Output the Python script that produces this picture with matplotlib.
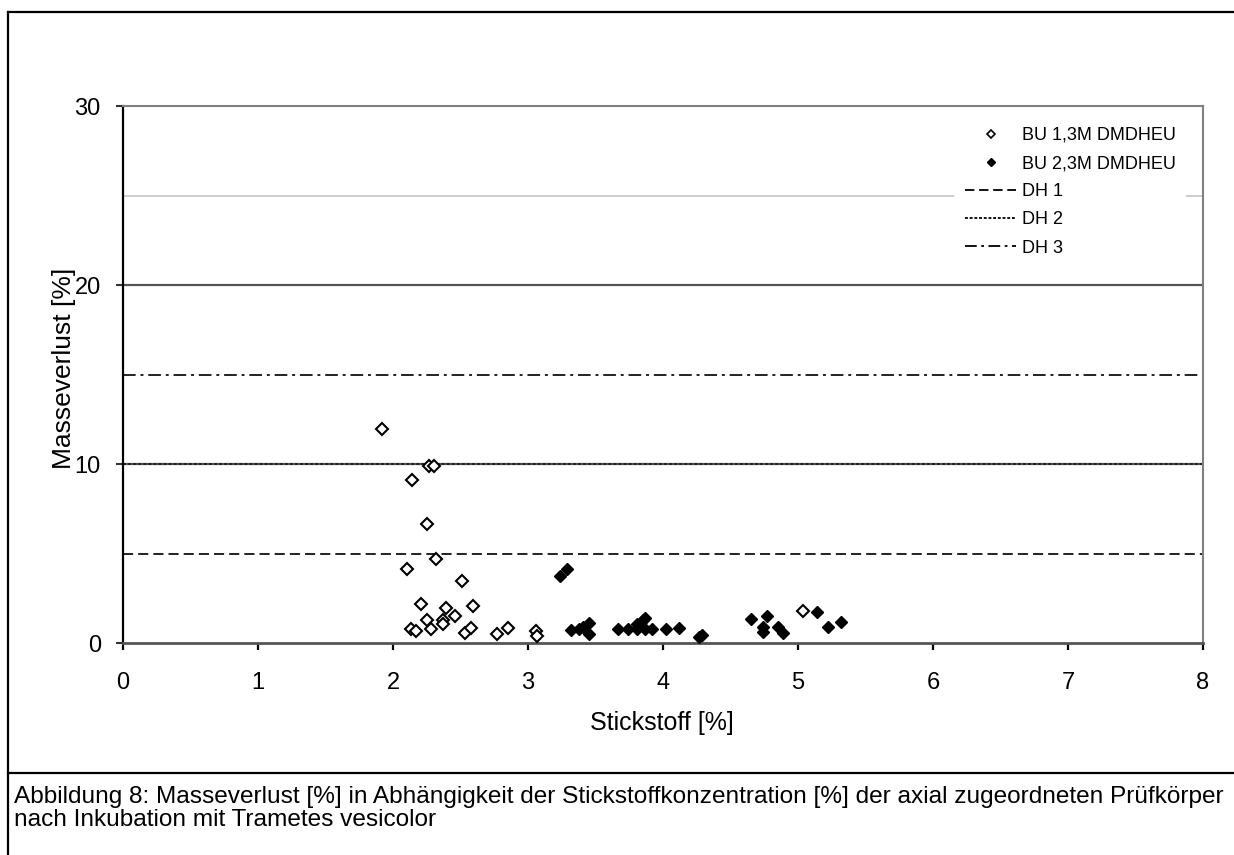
import matplotlib
matplotlib.use("Agg")
import matplotlib.pyplot as plt
from matplotlib.lines import Line2D

# ---------------- data ----------------
bu13_x = [1.92, 2.27, 2.30, 2.14, 2.25, 2.32, 2.10, 2.51, 2.21, 2.39, 2.59, 2.46,
          2.25, 2.37, 2.37, 2.13, 2.17, 2.28, 2.53, 2.58, 2.77, 2.85, 3.06, 3.07, 5.04]
bu13_y = [11.94, 9.90, 9.88, 9.13, 6.67, 4.68, 4.16, 3.49, 2.17, 1.98, 2.04, 1.52,
          1.28, 1.28, 1.06, 0.76, 0.69, 0.76, 0.54, 0.82, 0.48, 0.85, 0.69, 0.39, 1.80]

bu23_x = [3.24, 3.29, 3.32, 3.38, 3.41, 3.45, 3.45, 3.67, 3.74, 3.81, 3.85, 3.87, 3.81,
          3.87, 3.92, 4.02, 4.12, 4.29, 4.27, 4.65, 4.77, 4.74, 4.74, 4.85, 4.89,
          5.14, 5.22, 5.32]
bu23_y = [3.73, 4.16, 0.72, 0.76, 0.91, 1.10, 0.48, 0.80, 0.76, 0.76, 1.28, 1.39, 1.06,
          0.76, 0.76, 0.76, 0.85, 0.45, 0.32, 1.32, 1.50, 0.91, 0.63, 0.87, 0.57,
          1.75, 0.89, 1.19]

dh_levels = [5, 10, 15]
dh_labels = ["DH 1", "DH 2", "DH 3"]
grid_levels = [10, 20]
light_level = 25
series_labels = ["BU 1,3M DMDHEU", "BU 2,3M DMDHEU"]
x_ticks = [0, 1, 2, 3, 4, 5, 6, 7, 8]
y_ticks = [0, 10, 20, 30]
x_label = "Stickstoff [%]"
y_label = "Masseverlust [%]"
caption1 = ("Abbildung 8: Masseverlust [%] in Abhängigkeit der Stickstoffkonzentration "
            "[%] der axial zugeordneten Prüfkörper")
caption2 = "nach Inkubation mit Trametes vesicolor"

# ---------------- figure ----------------
W, H = 1234, 855
fig = plt.figure(figsize=(W / 100, H / 100), dpi=100)
narrow = ["Liberation Sans Narrow", "Liberation Sans", "DejaVu Sans"]
arial = ["Liberation Sans", "DejaVu Sans"]

def fx(px):
    return px / W

def fy(py):
    return 1 - py / H

# outer frame and caption separator
frame_kw = dict(color="black", lw=1.6, transform=fig.transFigure, clip_on=False)
fig.add_artist(Line2D([fx(8), fx(8)], [fy(12), 0], **frame_kw))
fig.add_artist(Line2D([fx(8), 1], [fy(12), fy(12)], **frame_kw))
fig.add_artist(Line2D([fx(8), 1], [fy(773), fy(773)], **frame_kw))

ax = fig.add_axes([fx(123), fy(643), (1203 - 123) / W, (643 - 106) / H])
ax.set_xlim(0, 8)
ax.set_ylim(0, 30)

# gridlines
ax.axhline(light_level, color="#c8c8c8", lw=1.3, zorder=1)
for g in grid_levels:
    ax.axhline(g, color="#555555", lw=1.6, zorder=1)

# DH lines
dh_styles = [(0, (5.2, 2.6)), (0, (1.6, 1.0)), (0, (6.5, 2.5, 1.5, 2.5))]
dh_handles = []
for lev, ls, lab in zip(dh_levels, dh_styles, dh_labels):
    ax.axhline(lev, color="#222222", lw=1.4, linestyle=ls, zorder=2)
    dh_handles.append(Line2D([], [], color="black", lw=1.3, linestyle=ls, label=lab))

# data
ax.plot(bu13_x, bu13_y, linestyle="none", marker="D", markersize=6.3,
        markerfacecolor="white", markeredgecolor="black", markeredgewidth=1.5, zorder=4)
ax.plot(bu23_x, bu23_y, linestyle="none", marker="D", markersize=6.3,
        markerfacecolor="black", markeredgecolor="black", markeredgewidth=1.0, zorder=4)

# spines
ax.spines["left"].set_color("black")
ax.spines["left"].set_linewidth(1.6)
ax.spines["bottom"].set_color("#555555")
ax.spines["bottom"].set_linewidth(2.0)
for s in ["top", "right"]:
    ax.spines[s].set_color("#808080")
    ax.spines[s].set_linewidth(1.5)

ax.set_xticks(x_ticks)
ax.set_yticks(y_ticks)
ax.set_xticklabels([str(v) for v in x_ticks])
ax.set_yticklabels([str(v) for v in y_ticks])
ax.tick_params(axis="x", direction="out", length=5, width=1.6, color="black", pad=16,
               labelsize=17)
ax.tick_params(axis="y", direction="out", length=5, width=1.5, color="#333333", pad=11,
               labelsize=17)
for lbl in ax.get_xticklabels() + ax.get_yticklabels():
    lbl.set_fontfamily(narrow)

fig.text(fx(64), fy(368), y_label, rotation=90, ha="center", va="center",
         fontsize=19, family=narrow)
fig.text(fx(662), fy(723), x_label, ha="center", va="center", fontsize=18, family=narrow)

# legend
handles = [
    Line2D([], [], linestyle="none", marker="D", markersize=4.2, markerfacecolor="white",
           markeredgecolor="black", markeredgewidth=1.2, label=series_labels[0]),
    Line2D([], [], linestyle="none", marker="D", markersize=4.2, markerfacecolor="black",
           markeredgecolor="black", label=series_labels[1]),
] + dh_handles
leg = ax.legend(handles=handles, loc="upper left",
                bbox_to_anchor=((954 - 123) / 1080, 1 - (116 - 106) / 537),
                borderaxespad=0, frameon=True, fancybox=False, framealpha=1,
                facecolor="white", edgecolor="none", handlelength=2.85,
                handletextpad=0.3, labelspacing=0.62, borderpad=0.6,
                prop={"family": narrow, "size": 13})
leg.set_zorder(3)

# caption
t1 = fig.text(fx(14), fy(797), caption1, ha="left", va="center", fontsize=15, family=arial)
fig.text(fx(14), fy(820), caption2, ha="left", va="center", fontsize=15, family=arial)
fig.canvas.draw()
w = t1.get_window_extent().width
fs = 15 * (1216 / w)
for t in fig.texts[-2:]:
    t.set_fontsize(fs)

fig.savefig("out.png", dpi=100)
